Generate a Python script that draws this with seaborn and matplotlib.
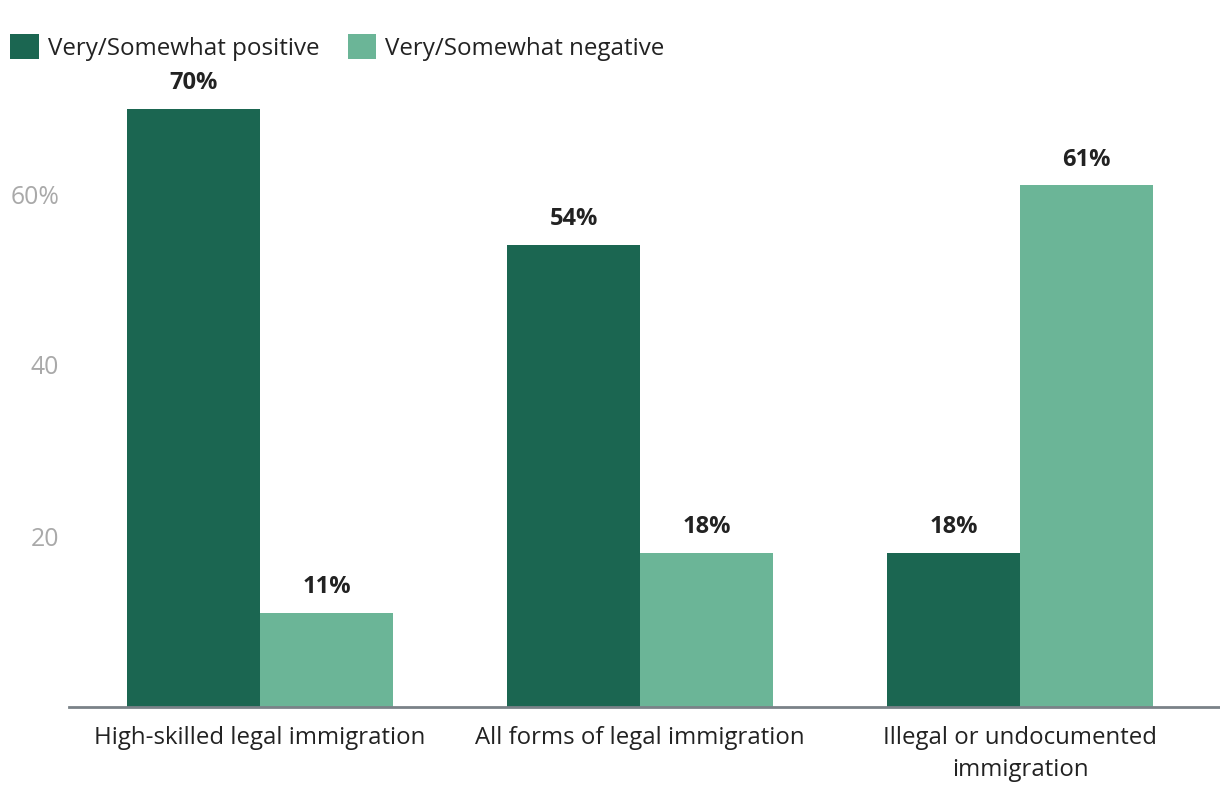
import matplotlib
matplotlib.use("Agg")
import matplotlib.pyplot as plt
import seaborn as sns
import pandas as pd
from matplotlib.patches import Patch

categories = ["High-skilled legal immigration", "All forms of legal immigration",
              "Illegal or undocumented\nimmigration"]
series_names = ["Very/Somewhat positive", "Very/Somewhat negative"]
positive = [70, 54, 18]
negative = [11, 18, 61]
yticks = [20, 40, 60]
ytick_labels = ["20", "40", "60%"]
colors = ["#1b6651", "#6bb597"]

df = pd.DataFrame({
    "category": categories * 2,
    "series": [series_names[0]] * 3 + [series_names[1]] * 3,
    "value": positive + negative,
})

sns.set_theme(style="white")
plt.rcParams["font.family"] = ["Open Sans", "DejaVu Sans"]

fig = plt.figure(figsize=(12.2, 8.06), dpi=100)
ax = fig.add_axes([69 / 1220, 1 - 707 / 806, 1 - 69 / 1220, (707 - 90) / 806])

sns.barplot(data=df, x="category", y="value", hue="series", hue_order=series_names,
            palette=colors, width=0.7, saturation=1, linewidth=0, ax=ax, legend=False)

ax.set_ylim(0, 617 / (171 / 20))
ax.set_xlim(-0.503, 2.526)
ax.set_yticks(yticks)
ax.set_yticklabels(ytick_labels, color="#a9a9a9", fontsize=17.8)
ax.tick_params(axis="y", length=0, pad=7)
ax.tick_params(axis="x", length=0, pad=14, labelsize=17.3, labelcolor="#222222")
for lbl in ax.get_xticklabels():
    lbl.set_linespacing(1.4)
ax.set_xlabel("")
ax.set_ylabel("")
for s in ["top", "right", "left"]:
    ax.spines[s].set_visible(False)
ax.spines["bottom"].set_color("#7a8288")
ax.spines["bottom"].set_linewidth(2)

for cont in ax.containers:
    ax.bar_label(cont, labels=[f"{v:.0f}%" for v in cont.datavalues], padding=10,
                 fontsize=17, fontweight="bold", color="#222222")

handles = [Patch(facecolor=c, edgecolor="none") for c in colors]
fig.legend(handles, series_names, loc="upper left", bbox_to_anchor=(-4 / 1220, 1 - 20 / 806),
           ncol=2, frameon=False, fontsize=17.4, handlelength=1.18, handleheight=1.18,
           handletextpad=0.37, columnspacing=1.17, labelcolor="#222222",
           borderaxespad=0.3, borderpad=0.3)

fig.savefig("out.png", dpi=100)
